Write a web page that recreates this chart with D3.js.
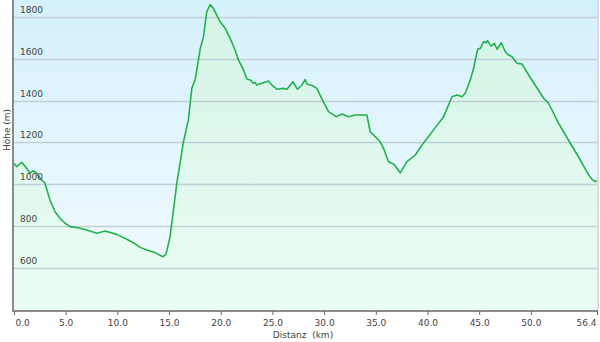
<!DOCTYPE html>
<html>
<head>
<meta charset="utf-8">
<script src="https://cdn.jsdelivr.net/npm/d3@7"></script>
<style>
  body { margin: 0; background: #fff; }
  .chart-div text { font-family: Verdana, "DejaVu Sans", sans-serif; }
</style>
</head>
<body>
<div class="chart-div"></div>
<script>
// データ---------------------------------------------------------------------------------------
const distKm = [0.00, 0.26, 0.75, 1.23, 1.55, 1.87, 2.20, 2.52, 3.00, 3.48, 3.97, 4.45, 4.94, 5.42, 6.20,
  7.04, 8.01, 8.81, 9.94, 10.91, 11.55, 12.20, 12.85, 13.65, 14.40, 14.71, 15.10, 15.75, 16.39, 16.87,
  17.20, 17.52, 18.01, 18.33, 18.65, 18.97, 19.29, 19.94, 20.43, 20.91, 21.39, 21.71, 22.20, 22.53,
  22.85, 23.17, 23.33, 23.49, 23.98, 24.62, 24.95, 25.43, 26.07, 26.40, 26.98, 27.42, 27.85, 28.17,
  28.33, 28.97, 29.30, 29.79, 30.43, 31.17, 31.72, 32.36, 33.01, 34.14, 34.46, 34.95, 35.43, 35.75,
  36.23, 36.72, 37.37, 38.01, 38.82, 39.47, 40.59, 41.56, 42.37, 42.86, 43.34, 43.66, 44.14, 44.46,
  44.85, 45.11, 45.43, 45.69, 45.82, 46.15, 46.47, 46.73, 47.14, 47.53, 47.85, 48.18, 48.66, 49.15,
  49.79, 51.24, 51.72, 52.69, 53.82, 54.79, 55.60, 55.92, 56.24, 56.40];
const heightM = [1100, 1084, 1105, 1076, 1053, 1065, 1053, 1029, 1005, 925, 869, 838, 814, 798, 793,
  782, 766, 777, 761, 738, 721, 699, 686, 674, 654, 667, 750, 1005, 1203, 1307,
  1458, 1498, 1646, 1705, 1824, 1858, 1840, 1776, 1745, 1697, 1641, 1594, 1546, 1503,
  1498, 1482, 1487, 1474, 1482, 1493, 1474, 1454, 1458, 1454, 1490, 1454, 1474, 1501,
  1479, 1469, 1458, 1407, 1347, 1323, 1336, 1323, 1331, 1331, 1251, 1227, 1203, 1172,
  1108, 1097, 1055, 1108, 1140, 1188, 1260, 1323, 1418, 1426, 1418, 1435, 1498, 1554,
  1645, 1649, 1681, 1676, 1686, 1660, 1673, 1645, 1676, 1633, 1617, 1609, 1578, 1574,
  1522, 1411, 1387, 1291, 1196, 1116, 1044, 1024, 1013, 1016];
const xTicks = [0, 5, 10, 15, 20, 25, 30, 35, 40, 45, 50, 56.4];
const yTicks = [600, 800, 1000, 1200, 1400, 1600, 1800];
const xTitle = 'Distanz  (km)';
const yTitle = 'Höhe (m)';
// 大きさ---------------------------------------------------------------------------------------
const width = 600;
const height = 342;
const margin = { top: 0, right: 3, bottom: 32, left: 14 };
const innerW = width - margin.left - margin.right;
const innerH = height - margin.top - margin.bottom;
const dataset = distKm.map((d, i) => ({ km: d, h: heightM[i] }));
// スケール-------------------------------------------------------------------------------------
const x = d3.scaleLinear().domain([0, 56.4]).range([0, innerW]);
const y = d3.scaleLinear().domain([400, 1880]).range([innerH, 0]);
// SVG領域作成---------------------------------------------------------------------------------
const svg = d3.select('.chart-div').append('svg')
.attr('width', width)
.attr('height', height);
const defs = svg.append('defs');
const bgGrad = defs.append('linearGradient')
.attr('id', 'bg-grad')
.attr('x1', 0).attr('y1', 0).attr('x2', 0).attr('y2', 1);
bgGrad.append('stop').attr('offset', '0%').attr('stop-color', '#d5f1fb');
bgGrad.append('stop').attr('offset', '100%').attr('stop-color', '#f3fbff');
const areaGrad = defs.append('linearGradient')
.attr('id', 'area-grad')
.attr('gradientUnits', 'userSpaceOnUse')
.attr('x1', 0).attr('y1', 0).attr('x2', 0).attr('y2', innerH);
areaGrad.append('stop').attr('offset', '0%').attr('stop-color', '#d3f4e6');
areaGrad.append('stop').attr('offset', '100%').attr('stop-color', '#ebfcf3');
const g = svg.append('g')
.attr('transform', 'translate(' + margin.left + ',' + margin.top + ')');
g.append('rect')
.attr('width', innerW)
.attr('height', innerH)
.attr('fill', 'url(#bg-grad)');
// 面とライン-----------------------------------------------------------------------------------
const area = d3.area()
.x(d => x(d.km))
.y0(innerH)
.y1(d => y(d.h));
g.append('path')
.datum(dataset)
.attr('d', area)
.attr('fill', 'url(#area-grad)');
// グリッド-------------------------------------------------------------------------------------
g.append('g')
.selectAll('line')
.data(yTicks)
.enter()
.append('line')
.attr('x1', 0)
.attr('x2', innerW)
.attr('y1', d => Math.round(y(d)) + 0.5)
.attr('y2', d => Math.round(y(d)) + 0.5)
.attr('stroke', '#c3cfd6')
.attr('stroke-width', 1.5);
const line = d3.line()
.x(d => x(d.km))
.y(d => y(d.h));
g.append('path')
.datum(dataset)
.attr('d', line)
.attr('fill', 'none')
.attr('stroke', '#22b14c')
.attr('stroke-width', 1.6)
.attr('stroke-linejoin', 'round');
// Y軸ラベル-----------------------------------------------------------------------------------
g.append('g')
.selectAll('text')
.data(yTicks)
.enter()
.append('text')
.attr('x', 6)
.attr('y', d => y(d) - 4)
.attr('font-size', '9px')
.attr('fill', '#444')
.text(d => d);
// 軸------------------------------------------------------------------------------------------
g.append('line')
.attr('x1', -1).attr('x2', -1)
.attr('y1', 0).attr('y2', innerH + 1)
.attr('stroke', '#8a8a8a')
.attr('stroke-width', 2);
g.append('line')
.attr('x1', -2).attr('x2', innerW + 1)
.attr('y1', innerH + 1).attr('y2', innerH + 1)
.attr('stroke', '#8a8a8a')
.attr('stroke-width', 2);
g.append('rect')
.attr('x', innerW)
.attr('y', 0)
.attr('width', 2)
.attr('height', innerH)
.attr('fill', '#d6dde0');
const xAxis = d3.axisBottom(x)
.tickValues(xTicks)
.tickSize(4)
.tickFormat(d3.format('.1f'));
const ax = g.append('g')
.attr('transform', 'translate(0,' + (innerH + 1) + ')')
.call(xAxis);
ax.select('.domain').remove();
ax.selectAll('line').attr('stroke', '#666');
ax.selectAll('text')
.attr('font-size', '9px')
.attr('fill', '#444')
.attr('dy', '0.85em')
.attr('text-anchor', (d, i) => i === 0 ? 'start' : (i === xTicks.length - 1 ? 'end' : 'middle'))
.attr('dx', (d, i) => i === 0 ? 1 : (i === xTicks.length - 1 ? -1 : 0));
// 軸タイトル-----------------------------------------------------------------------------------
svg.append('text')
.attr('x', 303)
.attr('y', 338)
.attr('text-anchor', 'middle')
.attr('font-size', '9px')
.attr('fill', '#444')
.style('white-space', 'pre')
.text(xTitle);
svg.append('text')
.attr('transform', 'translate(10,' + 130 + ') rotate(-90)')
.attr('text-anchor', 'middle')
.attr('font-size', '9px')
.attr('fill', '#444')
.text(yTitle);
</script>
</body>
</html>
